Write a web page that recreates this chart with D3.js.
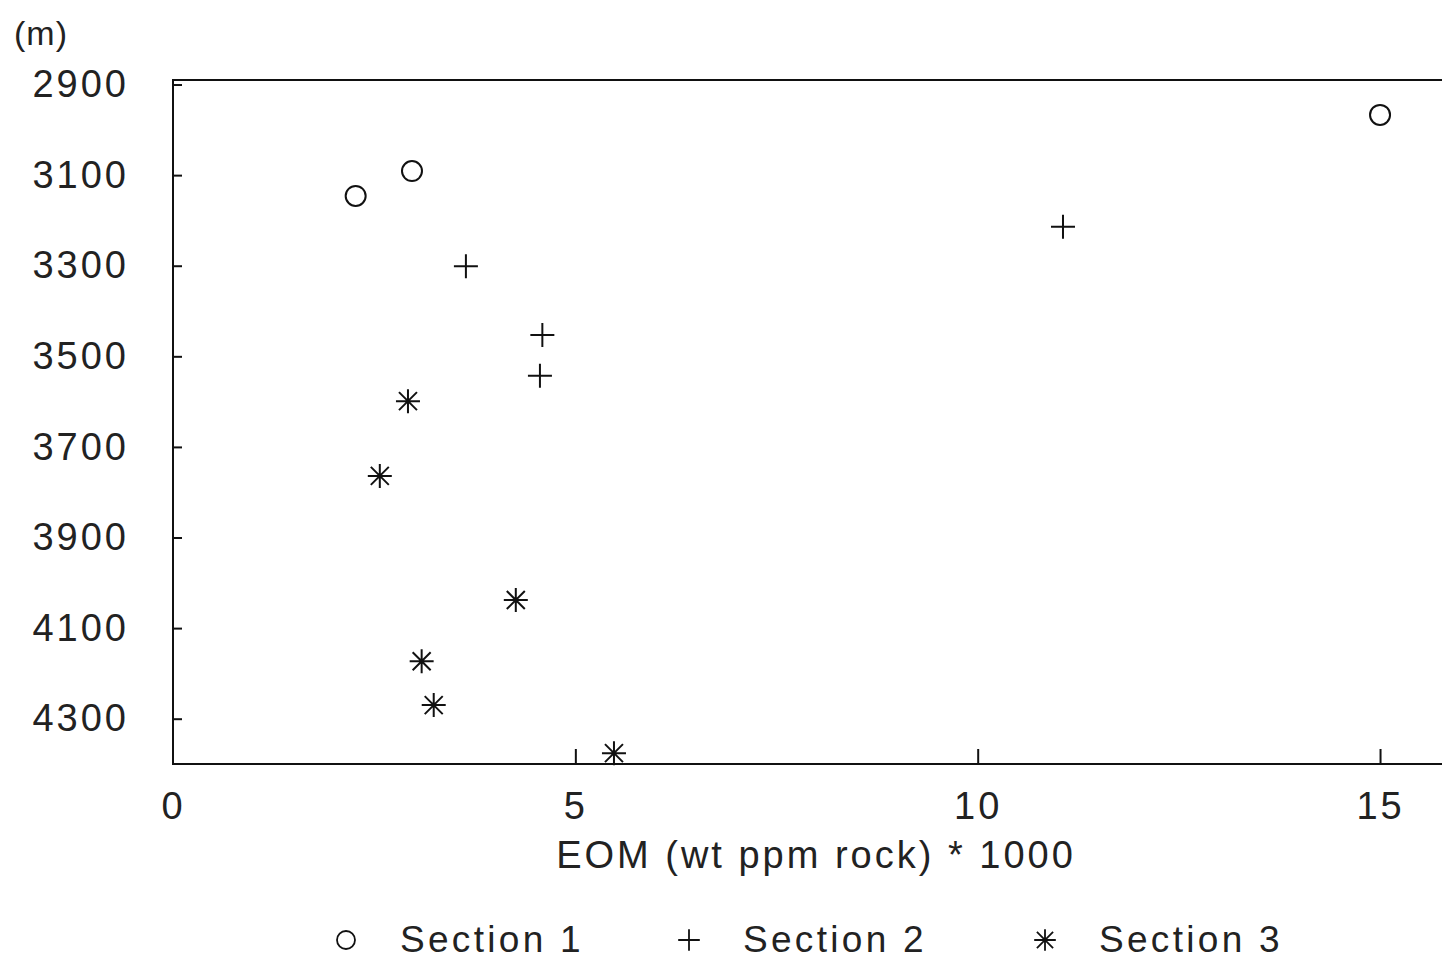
<!DOCTYPE html>
<html>
<head>
<meta charset="utf-8">
<script src="https://cdn.jsdelivr.net/npm/d3@7"></script>
<style>
  html, body { margin: 0; padding: 0; background: #fff; }
  svg { display: block; }
  text { font-family: "Liberation Sans", Arial, sans-serif; fill: #222; }
</style>
</head>
<body>
<svg id="chart" width="1442" height="962"></svg>
<script>
// ---- data ----
const seriesNames = ["Section 1", "Section 2", "Section 3"];
const section1 = [ {eom: 2.27, depth: 3146}, {eom: 2.97, depth: 3091}, {eom: 15.0, depth: 2967} ];
const section2 = [ {eom: 3.64, depth: 3301}, {eom: 4.59, depth: 3453}, {eom: 4.56, depth: 3543}, {eom: 11.06, depth: 3214} ];
const section3 = [ {eom: 2.92, depth: 3599}, {eom: 2.57, depth: 3764}, {eom: 4.26, depth: 4038}, {eom: 3.09, depth: 4173}, {eom: 3.24, depth: 4270}, {eom: 5.48, depth: 4376} ];
const xTicks = [0, 5, 10, 15];
const yTicks = [2900, 3100, 3300, 3500, 3700, 3900, 4100, 4300];
const xTitle = "EOM (wt ppm rock) * 1000";
const yUnit = "(m)";

// ---- layout ----
const svg = d3.select("#chart");
const mLeft = 173, mTop = 80, mBottom = 764, mRight = 1442;
const x = d3.scaleLinear().domain([0, 15.77]).range([mLeft, mRight]);
const y = d3.scaleLinear().domain([2890, 4400]).range([mTop, mBottom]);

const fs = 38, ls = 3;

// frame
svg.append("path")
  .attr("d", `M${mRight},${mTop} H${mLeft} V${mBottom} H${mRight}`)
  .attr("fill", "none").attr("stroke", "#111").attr("stroke-width", 2);

// y axis (ticks inward, labels on left)
const yAxis = d3.axisLeft(y).tickValues(yTicks).tickSize(-9).tickPadding(44).tickFormat(d3.format("d"));
const gy = svg.append("g").attr("transform", `translate(${mLeft},0)`).call(yAxis);
gy.select(".domain").remove();
gy.selectAll(".tick line").attr("stroke", "#111").attr("stroke-width", 2);
gy.selectAll(".tick text")
  .attr("font-size", fs).attr("letter-spacing", ls)
  .attr("font-family", "Liberation Sans, Arial, sans-serif").attr("fill", "#222");

// x axis (ticks upward, labels below)
const xAxis = d3.axisBottom(x).tickValues(xTicks).tickSize(-15).tickPadding(28).tickFormat(d3.format("d"));
const gx = svg.append("g").attr("transform", `translate(0,${mBottom})`).call(xAxis);
gx.select(".domain").remove();
gx.selectAll(".tick line").attr("stroke", "#111").attr("stroke-width", 2)
  .attr("display", d => d === 0 ? "none" : null);
gx.selectAll(".tick text")
  .attr("font-size", fs).attr("letter-spacing", ls)
  .attr("font-family", "Liberation Sans, Arial, sans-serif").attr("fill", "#222");

// titles
svg.append("text").attr("x", 14).attr("y", 45).attr("font-size", 34).attr("letter-spacing", 1).text(yUnit);
svg.append("text").attr("x", 816).attr("y", 868).attr("text-anchor", "middle")
  .attr("font-size", fs).attr("letter-spacing", ls).text(xTitle);

// markers
const sym = {
  circle: (g) => g.append("circle").attr("r", 10).attr("fill", "none").attr("stroke", "#111").attr("stroke-width", 2),
  plus: (g) => g.append("path").attr("d", "M-12,0H12M0,-12V12").attr("stroke", "#111").attr("stroke-width", 2),
  star: (g) => g.append("path").attr("d", "M-12,0H12M0,-12V12M-9,-9L9,9M-9,9L9,-9").attr("stroke", "#111").attr("stroke-width", 2)
};
const sets = [ {data: section1, s: "circle"}, {data: section2, s: "plus"}, {data: section3, s: "star"} ];
sets.forEach(set => {
  svg.append("g").selectAll("g").data(set.data).join("g")
    .attr("transform", d => `translate(${x(d.eom)},${y(d.depth)})`)
    .each(function() { sym[set.s](d3.select(this)); });
});

// legend
const legX = [346, 689, 1045];
const legY = 940;
seriesNames.forEach((name, i) => {
  const g = svg.append("g").attr("transform", `translate(${legX[i]},${legY})`);
  const m = g.append("g").attr("transform", "translate(0,0) scale(0.9)");
  sym[sets[i].s](m);
  g.append("text").attr("x", 54).attr("y", 12).attr("font-size", 37).attr("letter-spacing", 3.3).text(name);
});
</script>
</body>
</html>
